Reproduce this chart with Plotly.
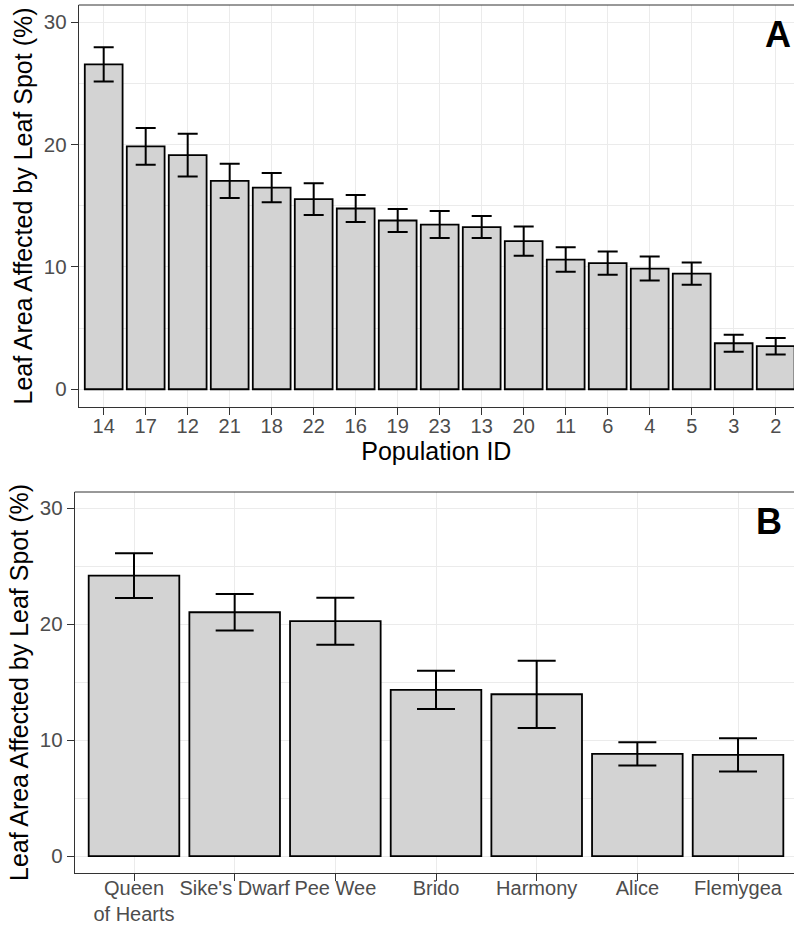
import plotly.graph_objects as go

# ---- Panel A data: wild populations ----
pop_ids = ["14", "17", "12", "21", "18", "22", "16", "19", "23", "13", "20", "11", "6", "4", "5", "3", "2"]
pop_means = [26.55, 19.85, 19.13, 17.03, 16.48, 15.53, 14.77, 13.79, 13.46, 13.25, 12.10, 10.60, 10.30, 9.86, 9.45, 3.76, 3.52]
pop_se = [1.40, 1.50, 1.75, 1.40, 1.20, 1.30, 1.10, 0.93, 1.10, 0.90, 1.20, 1.00, 0.95, 0.98, 0.90, 0.70, 0.67]

# ---- Panel B data: cultivars ----
cultivars = ["Queen<br>of Hearts", "Sike's Dwarf", "Pee Wee", "Brido", "Harmony", "Alice", "Flemygea"]
cult_means = [24.19, 21.03, 20.26, 14.34, 13.96, 8.82, 8.73]
cult_se = [1.93, 1.58, 2.03, 1.64, 2.90, 1.00, 1.43]

y_ticks = [0, 10, 20, 30]
y_title = "Leaf Area Affected by Leaf Spot (%)"

W, H = 794, 926
FONT = "Liberation Sans, Arial, sans-serif"
GRID = "#ebebeb"
BORDER = "#333333"
TICKC = "#4d4d4d"

fig = go.Figure()

fig.add_trace(go.Bar(
    x=pop_ids, y=pop_means, width=0.9,
    marker=dict(color="#d3d3d3", line=dict(color="black", width=1.8)),
    error_y=dict(type="data", array=pop_se, color="black", thickness=2, width=10),
    xaxis="x", yaxis="y", showlegend=False,
))
fig.add_trace(go.Bar(
    x=cultivars, y=cult_means, width=0.9,
    marker=dict(color="#d3d3d3", line=dict(color="black", width=1.8)),
    error_y=dict(type="data", array=cult_se, color="black", thickness=2, width=19),
    xaxis="x2", yaxis="y2", showlegend=False,
))

def px_x(v):
    return v / W

def px_y(v):
    return 1 - v / H

common_x = dict(
    type="category", showgrid=True, gridcolor=GRID, gridwidth=1.3,
    showline=True, linecolor=BORDER, linewidth=1,
    ticks="outside", ticklen=7, tickcolor=BORDER, tickwidth=1.2,
    tickfont=dict(family=FONT, size=20, color=TICKC),
    tickangle=0, automargin=False, ticklabelstandoff=-6,
    zeroline=False,
)
common_y = dict(
    range=[-1.45, 31.4], tickvals=y_ticks,
    showgrid=True, gridcolor=GRID, gridwidth=1.3,
    minor=dict(tickvals=[5, 15, 25], showgrid=True, gridcolor=GRID, gridwidth=0.7),
    showline=True, linecolor=BORDER, linewidth=1,
    ticks="outside", ticklen=7, tickcolor=BORDER, tickwidth=1.2,
    tickfont=dict(family=FONT, size=20.5, color=TICKC),
    automargin=False,
    zeroline=False,
    title=dict(text=y_title, font=dict(family=FONT, size=25, color="black"), standoff=4),
)

fig.update_layout(
    width=W, height=H, autosize=False,
    margin=dict(l=0, r=0, t=0, b=0),
    paper_bgcolor="white", plot_bgcolor="white",
    bargap=0.1,
    xaxis=dict(common_x, domain=[px_x(78.7), 1], anchor="y",
               range=[-0.595, 16.436],
               title=dict(text="Population ID", font=dict(family=FONT, size=25, color="black"), standoff=2)),
    yaxis=dict(common_y, domain=[px_y(407), px_y(5)], anchor="x"),
    xaxis2=dict(common_x, domain=[px_x(74.7), 1], anchor="y2",
                range=[-0.589, 6.556], ticklabelstandoff=-10),
    yaxis2=dict(common_y, domain=[px_y(873), px_y(492)], anchor="x2"),
    shapes=[
        dict(type="line", xref="x domain", yref="y domain", x0=0, x1=1, y0=1, y1=1,
             line=dict(color=BORDER, width=1)),
        dict(type="line", xref="x2 domain", yref="y2 domain", x0=0, x1=1, y0=1, y1=1,
             line=dict(color=BORDER, width=1)),
    ],
    annotations=[
        dict(text="<b>A</b>", xref="paper", yref="paper", x=px_x(778), y=px_y(35),
             showarrow=False, font=dict(family=FONT, size=36, color="black"),
             xanchor="center", yanchor="middle"),
        dict(text="<b>B</b>", xref="paper", yref="paper", x=px_x(769), y=px_y(521),
             showarrow=False, font=dict(family=FONT, size=36, color="black"),
             xanchor="center", yanchor="middle"),
    ],
)

fig.write_html("out.html")
